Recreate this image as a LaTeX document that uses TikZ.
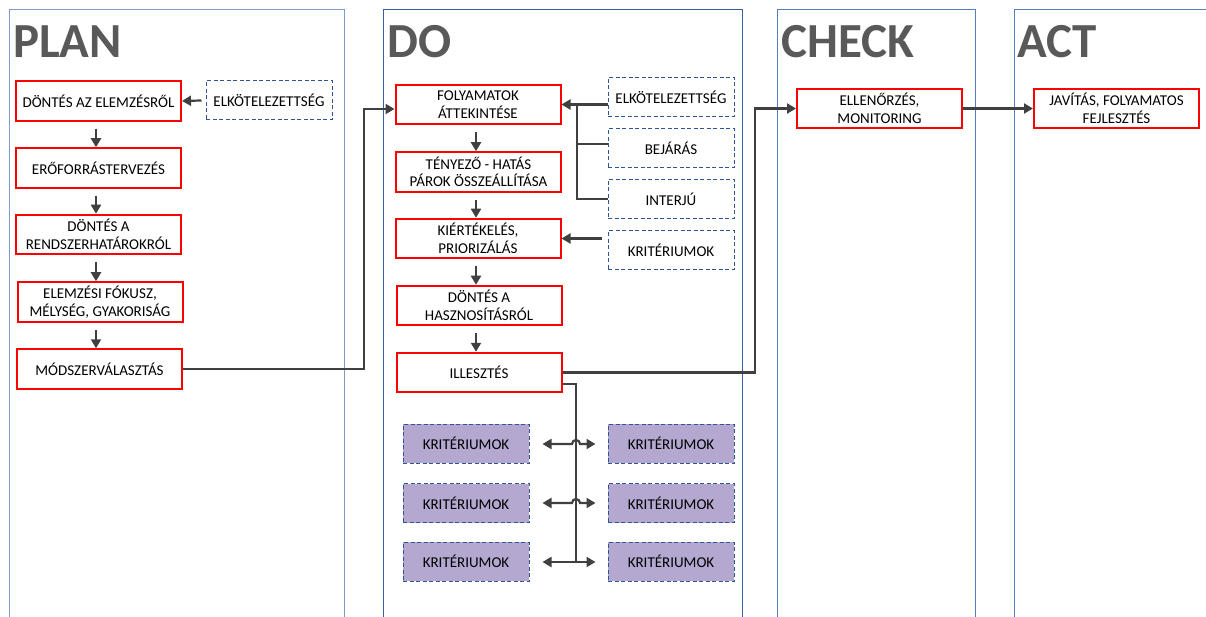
\documentclass[tikz,border=0pt]{standalone}
\usepackage{fontspec}
\setmainfont{Carlito}
\usetikzlibrary{arrows.meta,calc}
\definecolor{lanelight}{HTML}{7F9BCB}
\definecolor{lanedark}{HTML}{3B5EA0}
\definecolor{lanemid}{HTML}{5A7DBD}
\definecolor{titlegray}{HTML}{595959}
\definecolor{linegray}{HTML}{404040}
\definecolor{dashblue}{HTML}{2F5597}
\definecolor{lilac}{HTML}{B4A7D0}
\definecolor{boxred}{HTML}{FF0000}
\tikzset{
  phase/.style={anchor=base west, inner sep=0pt, text=titlegray,
    font=\fontsize{49}{52}\selectfont\bfseries},
  redbox/.style={draw=boxred, line width=2pt, fill=white, minimum width=165pt,
    minimum height=39.5pt, align=center, inner sep=2pt,
    font=\fontsize{15}{17.5}\selectfont},
  inbox/.style={draw=dashblue, line width=1pt, dash pattern=on 4pt off 2.5pt,
    fill=white, minimum width=126pt, minimum height=39pt, align=center,
    inner sep=2pt, font=\fontsize{15}{17.5}\selectfont},
  critbox/.style={inbox, fill=lilac},
  link/.style={draw=linegray, line width=2.2pt},
  arr/.style={link, -{Triangle[length=9pt,width=10pt]}},
  biarr/.style={link, {Triangle[length=9pt,width=10pt]}-{Triangle[length=9pt,width=10pt]}},
}
\begin{document}
\begin{tikzpicture}[x=1pt,y=-1pt]
\useasboundingbox (0,0) rectangle (1206,617);

% phase lanes (open at the bottom)
\draw[lanelight, line width=1pt] (9,620) |- (344,10) -- (344,620);
\draw[lanedark, line width=1pt] (383,620) |- (742,10) -- (742,620);
\draw[lanemid, line width=1pt] (777.5,620) |- (975,10) -- (975,620);
\draw[lanemid, line width=1pt] (1014,620) |- (1210,10);

% phase titles
\node[phase] (tplan) at (13,58) {PLAN};
\node[phase] (tdo) at (387,58) {DO};
\node[phase] (tcheck) at (781,58) {CHECK};
\node[phase] (tact) at (1017,58) {ACT};

% PLAN
\node[redbox] (p1) at (98.5,101) {DÖNTÉS AZ ELEMZÉSRŐL};
\node[inbox] (pe) at (269,100.5) {ELKÖTELEZETTSÉG};
\node[redbox] (p2) at (98.5,168) {ERŐFORRÁSTERVEZÉS};
\node[redbox] (p3) at (98.5,234.5) {DÖNTÉS A\\RENDSZERHATÁROKRÓL};
\node[redbox] (p4) at (100,302) {ELEMZÉSI FÓKUSZ,\\MÉLYSÉG, GYAKORISÁG};
\node[redbox] (p5) at (99.5,369) {MÓDSZERVÁLASZTÁS};

\draw[arr] ([xshift=-4pt]pe.west) -- (p1.east);
\draw[arr] ([yshift=-7pt]p1.south -| 96,0) -- (p2.north -| 96,0);
\draw[arr] ([yshift=-7pt]p2.south -| 96,0) -- (p3.north -| 96,0);
\draw[arr] ([yshift=-7pt]p3.south -| 96,0) -- (p4.north -| 96,0);
\draw[arr] ([yshift=-7pt]p4.south -| 96,0) -- (p5.north -| 96,0);

% DO
\node[redbox] (d1) at (478,104.5) {FOLYAMATOK\\ÁTTEKINTÉSE};
\node[redbox] (d2) at (478.5,172) {TÉNYEZŐ - HATÁS\\PÁROK ÖSSZEÁLLÍTÁSA};
\node[redbox] (d3) at (478,238.5) {KIÉRTÉKELÉS,\\PRIORIZÁLÁS};
\node[redbox] (d4) at (479,305.5) {DÖNTÉS A\\HASZNOSÍTÁSRÓL};
\node[redbox] (d5) at (479,372.5) {ILLESZTÉS};

\node[inbox] (e1) at (671,97) {ELKÖTELEZETTSÉG};
\node[inbox] (e2) at (671,148.5) {BEJÁRÁS};
\node[inbox] (e3) at (671,199) {INTERJÚ};
\node[inbox] (e4) at (671,250.5) {KRITÉRIUMOK};

\draw[arr] ([yshift=-7pt]d1.south -| 476,0) -- (d2.north -| 476,0);
\draw[arr] ([yshift=-7pt]d2.south -| 476,0) -- (d3.north -| 476,0);
\draw[arr] ([yshift=-7pt]d3.south -| 476,0) -- (d4.north -| 476,0);
\draw[arr] ([yshift=-7pt]d4.south -| 476,0) -- (d5.north -| 476,0);

% inputs gathered into the process overview
\coordinate (jin) at (577,104.5);
\draw[arr] (e1.west |- d1.east) -- (d1.east);
\draw[link] (jin) |- (e3.west);
\draw[link] (jin |- 0,144) -- (e2.west |- 0,144);
\draw[arr] ($(e4.west |- d3.east)+(-6,0)$) -- (d3.east);

% PLAN -> DO
\coordinate (k1) at (364,109);
\draw[arr] (p5.east) -| (k1) -- (k1 -| d1.west);

% criteria pairs
\node[critbox] (cl1) at (466,443.5) {KRITÉRIUMOK};
\node[critbox] (cl2) at (466,503) {KRITÉRIUMOK};
\node[critbox] (cl3) at (466,561.5) {KRITÉRIUMOK};
\node[critbox] (cr1) at (671,443.5) {KRITÉRIUMOK};
\node[critbox] (cr2) at (671,503) {KRITÉRIUMOK};
\node[critbox] (cr3) at (671,561.5) {KRITÉRIUMOK};

\coordinate (kb) at (576,562);
\draw[link] ($(d5.east)+(0,11.5)$) -| (kb);
\draw[biarr] ($(cl1.east)+(13,0.5)$) -- (572,444)
  arc[start angle=180,end angle=0,radius=4pt] -- ($(cr1.west)+(-12,0.5)$);
\draw[biarr] ($(cl2.east)+(13,0)$) -- (572,503)
  arc[start angle=180,end angle=0,radius=4pt] -- ($(cr2.west)+(-12,0)$);
\draw[biarr] ($(cl3.east)+(13,0.5)$) -- ($(cr3.west)+(-12,0.5)$);

% DO -> CHECK -> ACT
\node[redbox] (c1) at (879.5,108.5) {ELLENŐRZÉS,\\MONITORING};
\node[redbox] (a1) at (1116.5,108.5) {JAVÍTÁS, FOLYAMATOS\\FEJLESZTÉS};
\coordinate (k2) at (755,108.5);
\draw[arr] (d5.east) -| (k2) -- (c1.west);
\draw[arr] (c1.east) -- (a1.west);
\end{tikzpicture}
\end{document}
